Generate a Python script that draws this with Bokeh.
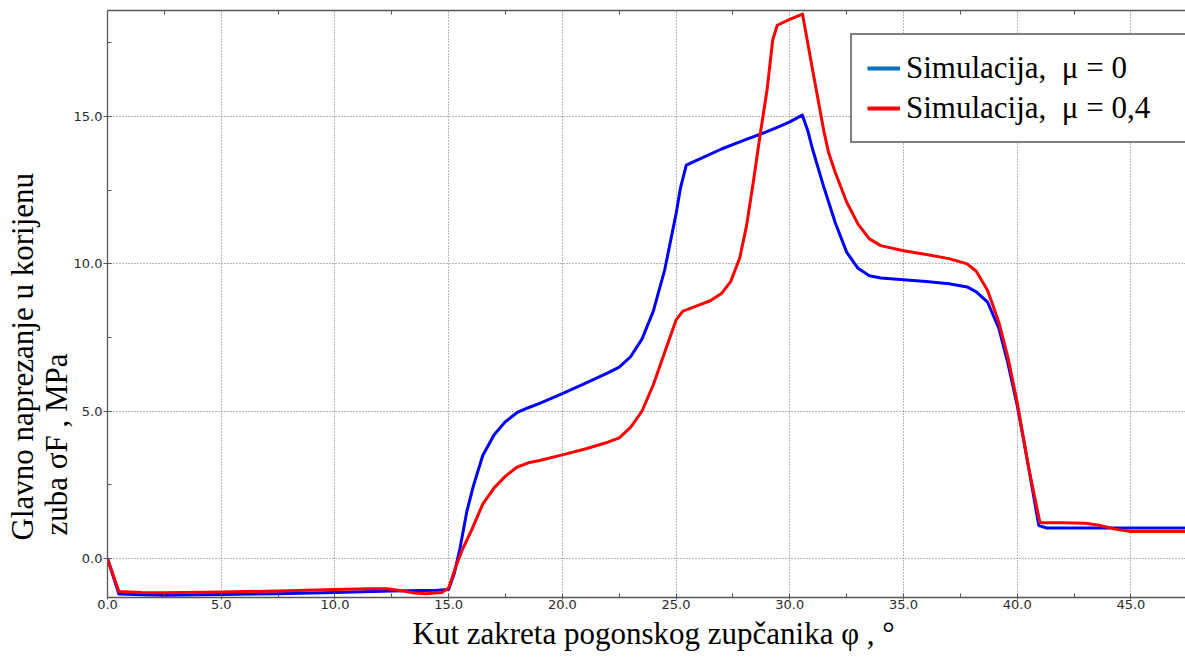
from bokeh.plotting import figure
from bokeh.models import (Legend, LegendItem, LinearAxis, Range1d, Title,
                          SingleIntervalTicker, FixedTicker, NumeralTickFormatter)
from bokeh.embed import file_html
from bokeh.resources import INLINE

# ---- data ----
angle_mu0 = [0.0, 0.5, 1.5, 2.5, 5.0, 7.5, 10.0, 12.5, 14.5, 15.0, 15.25, 15.5, 15.8,
             16.1, 16.5, 17.0, 17.5, 18.0, 18.5, 19.0, 20.0, 21.0, 22.0, 22.5, 23.0,
             23.5, 24.0, 24.5, 25.0, 25.2, 25.45, 26.0, 27.0, 28.0, 28.7, 29.5, 30.0,
             30.55, 30.8, 31.0, 31.5, 32.0, 32.5, 33.0, 33.5, 34.0, 35.0, 36.0, 37.0,
             37.8, 38.2, 38.7, 39.2, 39.6, 40.0, 40.5, 40.95, 41.3, 43.0, 45.0, 47.5]
stress_mu0 = [0.0, -1.2, -1.23, -1.24, -1.22, -1.19, -1.15, -1.1, -1.07, -1.05, -0.5,
              0.35, 1.6, 2.5, 3.5, 4.2, 4.65, 4.95, 5.12, 5.27, 5.6, 5.95, 6.3, 6.5,
              6.85, 7.45, 8.4, 9.8, 11.7, 12.6, 13.35, 13.55, 13.9, 14.2, 14.4, 14.65,
              14.82, 15.05, 14.5, 13.9, 12.6, 11.4, 10.4, 9.85, 9.6, 9.52, 9.46, 9.4,
              9.33, 9.22, 9.05, 8.7, 7.8, 6.6, 5.2, 3.1, 1.12, 1.04, 1.04, 1.04, 1.04]

angle_mu04 = [0.0, 0.5, 1.5, 2.5, 5.0, 7.5, 10.0, 11.5, 12.3, 13.0, 13.5, 14.0, 14.7,
              15.0, 15.3, 15.6, 16.0, 16.5, 17.0, 17.5, 18.0, 18.5, 19.0, 20.0, 21.0,
              22.0, 22.5, 23.0, 23.5, 24.0, 24.5, 25.0, 25.3, 26.0, 26.5, 27.0, 27.4,
              27.8, 28.1, 28.4, 28.7, 29.0, 29.25, 29.45, 30.0, 30.56, 31.0, 31.5, 31.7,
              32.0, 32.5, 33.0, 33.5, 34.0, 35.0, 36.0, 37.0, 37.8, 38.2, 38.7, 39.2,
              39.6, 40.0, 40.5, 41.0, 42.0, 43.0, 43.6, 44.3, 45.0, 47.5]
stress_mu04 = [0.0, -1.12, -1.15, -1.16, -1.13, -1.1, -1.05, -1.02, -1.02, -1.1, -1.17,
               -1.19, -1.15, -1.0, -0.3, 0.3, 0.95, 1.85, 2.4, 2.8, 3.1, 3.25, 3.33,
               3.52, 3.72, 3.95, 4.1, 4.45, 5.0, 5.9, 7.0, 8.1, 8.4, 8.6, 8.75, 9.0,
               9.4, 10.2, 11.3, 12.8, 14.4, 15.9, 17.6, 18.1, 18.3, 18.48, 16.6, 14.5,
               13.8, 13.1, 12.1, 11.35, 10.85, 10.62, 10.45, 10.32, 10.18, 10.0, 9.75,
               9.1, 8.0, 6.8, 5.3, 3.1, 1.22, 1.22, 1.2, 1.13, 1.0, 0.92, 0.92]

series_labels = ["Simulacija,  μ = 0", "Simulacija,  μ = 0,4"]
x_title = "Kut zakreta pogonskog zupčanika  φ , °"
y_title_1 = "Glavno naprezanje u korijenu"
y_title_2 = "zuba σF , MPa"
top_minor_ticks = [2.5, 7.5, 12.5, 17.5, 22.5, 27.5, 32.5, 37.5, 42.5, 47.5]

SERIF = "Liberation Serif"
TICK_FONT = "DejaVu Sans"
AXIS_GREY = "#555555"

p = figure(width=1185, height=659, output_backend="svg", toolbar_location=None,
           x_range=Range1d(0, 47.4), y_range=Range1d(-1.32, 18.6),
           min_border_left=107, min_border_right=0, min_border_top=10,
           min_border_bottom=62)
p.outline_line_color = None
p.background_fill_color = "white"
p.border_fill_color = "white"

xticker = SingleIntervalTicker(interval=5, num_minor_ticks=2)
yticker = SingleIntervalTicker(interval=5, num_minor_ticks=2)

xa = p.xaxis[0]
xa.ticker = xticker
xa.formatter = NumeralTickFormatter(format="0.0")
ya = p.yaxis[0]
ya.ticker = yticker
ya.formatter = NumeralTickFormatter(format="0.0")

for ax in (xa, ya):
    ax.axis_line_color = AXIS_GREY
    ax.axis_line_width = 1.3
    ax.major_tick_line_color = AXIS_GREY
    ax.minor_tick_line_color = AXIS_GREY
    ax.major_label_text_font = TICK_FONT
    ax.major_label_text_font_size = "13px"
    ax.major_label_text_color = "#2a2a2a"
    ax.minor_tick_in = 4
    ax.minor_tick_out = 0

xa.major_tick_in = 0
xa.major_tick_out = 2
xa.major_label_standoff = 0
ya.major_tick_in = 0
ya.major_tick_out = 4
ya.major_label_standoff = 1

# top frame line with inward minor ticks, no labels
top = LinearAxis(ticker=FixedTicker(ticks=[], minor_ticks=top_minor_ticks),
                 major_tick_in=0, major_tick_out=0,
                 minor_tick_in=4, minor_tick_out=0,
                 axis_line_color=AXIS_GREY, axis_line_width=1.3,
                 minor_tick_line_color=AXIS_GREY)
p.add_layout(top, "above")

for g, t in ((p.xgrid[0], xticker), (p.ygrid[0], yticker)):
    g.ticker = t
    g.grid_line_color = "#707070"
    g.grid_line_dash = "1 2"
    g.grid_line_width = 1

p.line(angle_mu0, stress_mu0, line_color="#0000ff", line_width=3, line_join="round")
p.line(angle_mu04, stress_mu04, line_color="#ff0000", line_width=3, line_join="round")

# legend swatches styled like the reference's legend (no visible data)
nan = float("nan")
sw0 = p.line(x=[nan], y=[nan], line_color="#0070c0", line_width=4)
sw1 = p.line(x=[nan], y=[nan], line_color="#ff0000", line_width=4)
legend = Legend(items=[LegendItem(label=series_labels[0], renderers=[sw0]),
                       LegendItem(label=series_labels[1], renderers=[sw1])],
                location=(743, 454), label_text_font=SERIF,
                label_text_font_size="31px", label_text_color="black",
                glyph_width=33, glyph_height=20, label_standoff=6,
                label_width=265, padding=15, spacing=4, margin=0,
                border_line_color="black", border_line_width=2,
                background_fill_color="white", background_fill_alpha=1.0)
p.add_layout(legend)

# axis titles
p.add_layout(Title(text=x_title, align="left", offset=305, standoff=5,
                   text_font=SERIF, text_font_size="31px", text_font_style="normal",
                   text_color="black"), "below")
p.add_layout(Title(text=y_title_2, align="left", offset=62, standoff=-7,
                   text_font=SERIF, text_font_size="31px", text_font_style="normal",
                   text_color="black"), "left")
p.add_layout(Title(text=y_title_1, align="left", offset=57, standoff=1,
                   text_font=SERIF, text_font_size="31px", text_font_style="normal",
                   text_color="black"), "left")

open("out.html", "w").write(file_html(p, INLINE))
